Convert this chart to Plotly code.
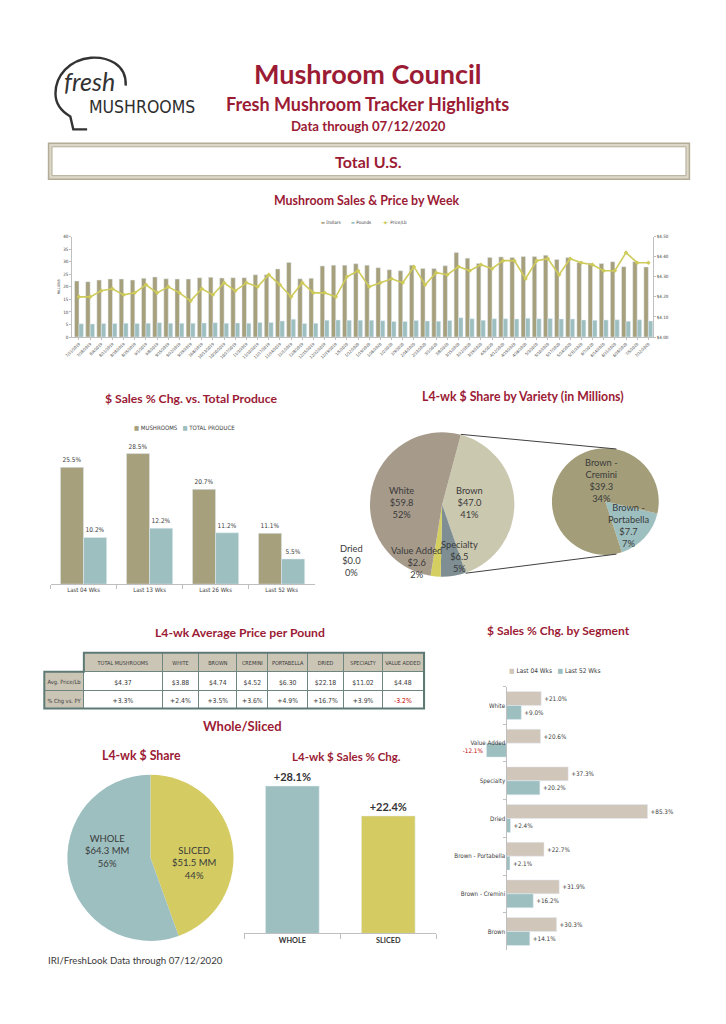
import math
import plotly.graph_objects as go

W, H = 726, 1024
def X(px): return px / W
def Y(py): return 1 - py / H

RED = "#9B1B35"
TF = "Lato, 'Open Sans', sans-serif"
NF = "'Liberation Sans Narrow', 'DejaVu Sans Condensed', 'Liberation Sans', sans-serif"
TXT = "#3A3A3A"
OLIVE = "#A6A07C"
TEAL = "#9DBFC0"
YEL = "#D4CC62"
BEIGE = "#D0C6BA"
LINEC = "#CFCB5A"
GRID = "#BFBFBF"

# ---------------- data ----------------
weeks = ["7/21/2019", "7/28/2019", "8/4/2019", "8/11/2019", "8/18/2019", "8/25/2019",
         "9/1/2019", "9/8/2019", "9/15/2019", "9/22/2019", "9/29/2019", "10/6/2019",
         "10/13/2019", "10/20/2019", "10/27/2019", "11/3/2019", "11/10/2019", "11/17/2019",
         "11/24/2019", "12/1/2019", "12/8/2019", "12/15/2019", "12/22/2019", "12/29/2019",
         "1/5/2020", "1/12/2020", "1/19/2020", "1/26/2020", "2/2/2020", "2/9/2020",
         "2/16/2020", "2/23/2020", "3/1/2020", "3/8/2020", "3/15/2020", "3/22/2020",
         "3/29/2020", "4/5/2020", "4/12/2020", "4/19/2020", "4/26/2020", "5/3/2020",
         "5/10/2020", "5/17/2020", "5/24/2020", "5/31/2020", "6/7/2020", "6/14/2020",
         "6/21/2020", "6/28/2020", "7/5/2020", "7/12/2020"]
dollars = [22.3, 22.0, 22.7, 23.1, 23.1, 22.7, 23.4, 23.9, 23.2, 23.1, 23.1, 23.6,
           23.8, 23.5, 23.6, 23.6, 24.8, 24.8, 27.1, 29.7, 23.2, 23.4, 28.3, 28.6,
           28.6, 29.2, 28.6, 27.6, 26.8, 26.4, 28.6, 27.3, 27.3, 28.4, 33.7, 31.4,
           29.3, 31.7, 31.9, 31.7, 32.1, 32.1, 32.6, 30.9, 31.7, 29.7, 29.4, 29.3,
           30.0, 28.0, 30.0, 27.9]
pounds = [5.3, 5.2, 5.4, 5.4, 5.5, 5.4, 5.5, 5.7, 5.5, 5.5, 5.5, 5.6,
          5.7, 5.5, 5.6, 5.5, 5.8, 5.8, 6.4, 7.1, 5.4, 5.5, 6.7, 6.8,
          6.7, 6.7, 6.7, 6.5, 6.2, 6.2, 6.6, 6.4, 6.3, 6.6, 7.7, 7.3,
          6.7, 7.3, 7.3, 7.2, 7.5, 7.3, 7.4, 7.2, 7.2, 6.8, 6.7, 6.8,
          6.9, 6.3, 6.9, 6.4]
price = [4.20, 4.20, 4.23, 4.24, 4.21, 4.22, 4.26, 4.22, 4.25, 4.22, 4.18, 4.24,
         4.21, 4.27, 4.23, 4.27, 4.25, 4.31, 4.26, 4.20, 4.27, 4.22, 4.22, 4.20,
         4.30, 4.33, 4.25, 4.27, 4.29, 4.27, 4.35, 4.26, 4.32, 4.31, 4.35, 4.33,
         4.36, 4.34, 4.38, 4.38, 4.29, 4.38, 4.39, 4.31, 4.39, 4.37, 4.36, 4.33,
         4.33, 4.42, 4.37, 4.37]
weekly_names = ["Dollars", "Pounds", "Price/Lb"]

periods = ["Last 04 Wks", "Last 13 Wks", "Last 26 Wks", "Last 52 Wks"]
mush_chg = [25.5, 28.5, 20.7, 11.1]
produce_chg = [10.2, 12.2, 11.2, 5.5]
produce_names = ["MUSHROOMS", "TOTAL PRODUCE"]

variety_labels = ["Brown", "Specialty", "Value Added", "Dried", "White"]
variety_dollars = [47.0, 6.5, 2.6, 0.0, 59.8]
variety_pct = [41, 5, 2, 0, 52]
variety_colors = ["#CBC8B0", "#7E8E93", "#D5CF62", "#B5A36A", "#A69A8B"]

brown_labels = ["Brown -<br>Portabella", "Brown -<br>Cremini"]
brown_dollars = [7.7, 39.3]
brown_pct = [7, 34]

table_cols = ["TOTAL MUSHROOMS", "WHITE", "BROWN", "CREMINI", "PORTABELLA",
              "DRIED", "SPECIALTY", "VALUE ADDED"]
row_labels = ["Avg. Price/Lb", "% Chg vs. PY"]
avg_price = [4.37, 3.88, 4.74, 4.52, 6.30, 22.18, 11.02, 4.48]
price_chg = [3.3, 2.4, 3.5, 3.6, 4.9, 16.7, 3.9, -3.2]

ws_labels = ["WHOLE", "SLICED"]
ws_dollars = [64.3, 51.5]
ws_pct = [56, 44]
ws_chg = [28.1, 22.4]

segments = ["White", "Value Added", "Specialty", "Dried", "Brown - Portabella",
            "Brown - Cremini", "Brown"]
seg_04 = [21.0, 20.6, 37.3, 85.3, 22.7, 31.9, 30.3]
seg_52 = [9.0, -12.1, 20.2, 2.4, 2.1, 16.2, 14.1]
seg_names = ["Last 04 Wks", "Last 52 Wks"]

# ---------------- figure ----------------
fig = go.Figure()

# weekly chart
fig.add_trace(go.Bar(x=weeks, y=dollars, name=weekly_names[0], marker_color=OLIVE,
                     width=0.4, offset=-0.4, xaxis="x", yaxis="y", showlegend=False))
fig.add_trace(go.Bar(x=weeks, y=pounds, name=weekly_names[1], marker_color=TEAL,
                     width=0.4, offset=0.0, xaxis="x", yaxis="y", showlegend=False))
fig.add_trace(go.Scatter(x=weeks, y=price, name=weekly_names[2], mode="lines+markers",
                         line=dict(color=LINEC, width=1.6),
                         marker=dict(symbol="diamond", size=3.5, color=LINEC),
                         xaxis="x", yaxis="y2", showlegend=False))

# produce comparison
bar_small = dict(family=NF, size=6.5, color=TXT)
fig.add_trace(go.Bar(x=periods, y=mush_chg, name=produce_names[0], marker_color=OLIVE,
                     width=0.35, offset=-0.35, xaxis="x2", yaxis="y3", showlegend=False,
                     text=[f"{v:.1f}%" for v in mush_chg], textposition="outside",
                     cliponaxis=False, textfont=bar_small))
fig.add_trace(go.Bar(x=periods, y=produce_chg, name=produce_names[1], marker_color=TEAL,
                     width=0.35, offset=0.0, xaxis="x2", yaxis="y3", showlegend=False,
                     text=[f"{v:.1f}%" for v in produce_chg], textposition="outside",
                     cliponaxis=False, textfont=bar_small))

# segment horizontal bars
fig.add_trace(go.Bar(y=segments, x=seg_04, orientation="h", name=seg_names[0],
                     marker_color=BEIGE, width=0.37, offset=-0.37,
                     xaxis="x3", yaxis="y4", showlegend=False,
                     text=[f"{v:+.1f}%" for v in seg_04], textposition="outside",
                     cliponaxis=False, textfont=dict(family=NF, size=6.3, color=TXT)))
fig.add_trace(go.Bar(y=segments, x=seg_52, orientation="h", name=seg_names[1],
                     marker_color=TEAL, width=0.37, offset=0.0,
                     xaxis="x3", yaxis="y4", showlegend=False,
                     text=[f"{v:+.1f}%" for v in seg_52], textposition="outside",
                     cliponaxis=False,
                     textfont=dict(family=NF, size=6.3,
                                   color=["#C00000" if v < 0 else TXT for v in seg_52])))

# whole / sliced bars
fig.add_trace(go.Bar(x=ws_labels, y=ws_chg, marker_color=[TEAL, YEL], width=0.56,
                     xaxis="x4", yaxis="y5", showlegend=False,
                     text=[f"<b>{v:+.1f}%</b>" for v in ws_chg], textposition="outside",
                     cliponaxis=False, textfont=dict(family=TF, size=11, color="#333333")))

# pies
MAIN_C, MAIN_R = (439, 505), 73
MAIN_ROT = 15
fig.add_trace(go.Pie(labels=variety_labels, values=variety_dollars, sort=False,
                     direction="clockwise", rotation=MAIN_ROT, textinfo="none",
                     marker=dict(colors=variety_colors, line=dict(width=0)),
                     domain=dict(x=[X(MAIN_C[0] - MAIN_R), X(MAIN_C[0] + MAIN_R)],
                                 y=[Y(MAIN_C[1] + MAIN_R), Y(MAIN_C[1] - MAIN_R)]),
                     showlegend=False))
SUB_C, SUB_R = (604, 502), 54
SUB_ROT = 103
fig.add_trace(go.Pie(labels=brown_labels, values=brown_dollars, sort=False,
                     direction="clockwise", rotation=SUB_ROT, textinfo="none",
                     marker=dict(colors=[TEAL, "#A39E79"], line=dict(width=0)),
                     domain=dict(x=[X(SUB_C[0] - SUB_R), X(SUB_C[0] + SUB_R)],
                                 y=[Y(SUB_C[1] + SUB_R), Y(SUB_C[1] - SUB_R)]),
                     showlegend=False))
WS_C, WS_R = (144, 860), 84
fig.add_trace(go.Pie(labels=ws_labels[::-1], values=ws_dollars[::-1], sort=False,
                     direction="clockwise", rotation=0, textinfo="none",
                     marker=dict(colors=[YEL, TEAL], line=dict(width=0)),
                     domain=dict(x=[X(WS_C[0] - WS_R), X(WS_C[0] + WS_R)],
                                 y=[Y(WS_C[1] + WS_R), Y(WS_C[1] - WS_R)]),
                     showlegend=False))

# table
NB = "\u00a0"
TLINE = "#6E8580"
TAUPE = "#CBC5B6"
cells = [[r.replace(" ", NB) for r in row_labels]] + \
        [[f"${p:.2f}", f"{c:+.1f}%"] for p, c in zip(avg_price, price_chg)]
cell_colors = [[TXT, TXT]] + [[TXT, "#C00000" if c < 0 else TXT] for c in price_chg]
fig.add_trace(go.Table(
    domain=dict(x=[X(36.7), X(420.7)], y=[Y(718), Y(654)]),
    columnwidth=[40, 79.3, 37.3, 38.4, 31.6, 40, 36.7, 39.3, 41.4],
    header=dict(values=[""] + [c.replace(" ", NB) for c in table_cols],
                fill=dict(color=["white"] + [TAUPE] * len(table_cols)),
                line=dict(color=["white"] + [TLINE] * len(table_cols), width=1),
                font=dict(family=NF, size=5.5, color=TXT), height=19, align="center"),
    cells=dict(values=cells,
               fill=dict(color=[TAUPE] + ["white"] * len(table_cols)),
               line=dict(color=TLINE, width=1),
               font=dict(family=NF, size=[5.7] + [6.8] * len(table_cols), color=cell_colors),
               height=18.5, align="center")))

# ---------------- annotations ----------------
ann = []
def text(t, x, y, size, color=RED, family=TF, xanchor="center", bold=True):
    ann.append(dict(text=(f"<b>{t}</b>" if bold else t), x=X(x), y=Y(y), xref="paper",
                    yref="paper", showarrow=False, xanchor=xanchor, yanchor="middle",
                    font=dict(family=family, size=size, color=color)))

text("Mushroom Council", 364, 72, 27)
text("Fresh Mushroom Tracker Highlights", 364, 102, 18)
text("Data through 07/12/2020", 365, 125, 13.2)
text("Total U.S.", 365, 160, 16)
text("Mushroom Sales & Price by Week", 363, 199, 12.4)
text("$ Sales % Chg. vs. Total Produce", 185, 398, 12.2)
text("L4-wk $ Share by Variety (in Millions)", 521, 396, 12.3)
text("L4-wk Average Price per Pound", 235, 634, 12.2)
text("$ Sales % Chg. by Segment", 557, 632, 12)
text("Whole/Sliced", 237, 728, 13)
text("L4-wk $ Share", 135, 757, 12.3)
text("L4-wk $ Sales % Chg.", 342, 758, 11.5)
text("IRI/FreshLook Data through 07/12/2020", 38, 963, 9.7, color=TXT, xanchor="left", bold=False)

# compact legends (series names and colours from the traces' definitions)
def sw(color, glyph="■"):
    return f"<span style='color:{color}'>{glyph}</span>"
text(f"{sw(OLIVE, '▬')} {weekly_names[0]}&nbsp;&nbsp;&nbsp;&nbsp;&nbsp;&nbsp;&nbsp;&nbsp;"
     f"{sw(TEAL, '▬')} {weekly_names[1]}&nbsp;&nbsp;&nbsp;&nbsp;&nbsp;&nbsp;&nbsp;&nbsp;"
     f"{sw(LINEC, '–◆–')} {weekly_names[2]}", 360, 222, 4.6, color=TXT, family=NF, bold=False)
text(f"{sw(OLIVE)} {produce_names[0]}&nbsp;&nbsp;&nbsp;{sw(TEAL)} {produce_names[1]}",
     178, 428, 6, color=TXT, family=NF, bold=False)
text(f"{sw(BEIGE)} {seg_names[0]}&nbsp;&nbsp;&nbsp;{sw(TEAL)} {seg_names[1]}",
     553, 672, 6.5, color=TXT, family=NF, bold=False)

# logo text
ann.append(dict(text="<i>fresh</i>", x=X(82), y=Y(79), xref="paper", yref="paper",
                xanchor="center", yanchor="middle", showarrow=False,
                font=dict(family=TF, size=25, color="#333333", style="italic")))
ann.append(dict(text="MUSHROOMS", x=X(135), y=Y(106), xref="paper", yref="paper",
                xanchor="center", yanchor="middle", showarrow=False,
                font=dict(family=NF, size=17.5, color="#2E2E2E")))

# pie labels
main_pos = {"Brown": (467, 503), "Specialty": (457, 557), "Value Added": (413, 563),
            "Dried": (347, 561), "White": (398, 503)}
for lab, v, p in zip(variety_labels, variety_dollars, variety_pct):
    px, py = main_pos[lab]
    text(f"{lab}<br>${v:.1f}<br>{p}%", px, py, 9.3, color=TXT, bold=False)
sub_pos = [(627, 526), (600, 481)]
for (px, py), lab, v, p in zip(sub_pos, brown_labels, brown_dollars, brown_pct):
    text(f"{lab}<br>${v:.1f}<br>{p}%", px, py, 9.3, color=TXT, bold=False)
ws_pos = [(100, 853), (188, 865)]
for (px, py), lab, v, p in zip(ws_pos, ws_labels, ws_dollars, ws_pct):
    text(f"{lab}<br>${v:.1f} MM<br>{p}%", px, py, 9.5, color=TXT, bold=False)

# ---------------- shapes ----------------
def pt(px, py): return f"{X(px):.5f},{Y(py):.5f}"
shapes = [
    dict(type="rect", xref="paper", yref="paper", x0=X(41), x1=X(689), y0=Y(178), y1=Y(142),
         line=dict(color="#B3AC96", width=1.5), fillcolor="#DCD7C8", layer="below"),
    dict(type="rect", xref="paper", yref="paper", x0=X(44.5), x1=X(685.5), y0=Y(174.5), y1=Y(145.5),
         line=dict(color="#B3AC96", width=1), fillcolor="white", layer="below"),
    dict(type="path", xref="paper", yref="paper",
         path=(f"M {pt(119, 84)} C {pt(120, 62)} {pt(100, 55)} {pt(84, 56)} "
               f"C {pt(62, 58)} {pt(48, 74)} {pt(48, 92)} "
               f"C {pt(48, 104)} {pt(56, 111)} {pt(63, 115)} "
               f"L {pt(66, 128)} L {pt(80, 128)}"),
         line=dict(color="#333333", width=2.4)),
    dict(type="path", xref="paper", yref="paper",
         path=(f"M {pt(76.7, 654)} L {pt(420.7, 654)} L {pt(420.7, 710)} "
               f"L {pt(36.7, 710)} L {pt(36.7, 673)} L {pt(76.7, 673)} Z"),
         line=dict(color="#5E7A75", width=2)),
]
# connector lines between the pies (edges of the Brown slice)
tot = sum(variety_dollars)
a0 = math.radians(MAIN_ROT)
a1 = math.radians(MAIN_ROT + 360 * variety_dollars[0] / tot)
def on(c, r, a): return (c[0] + r * math.sin(a), c[1] - r * math.cos(a))
p_top, p_bot = on(MAIN_C, MAIN_R, a0), on(MAIN_C, MAIN_R, a1)
q_top, q_bot = on(SUB_C, SUB_R, math.radians(12)), on(SUB_C, SUB_R, math.radians(168))
for p, q in [(p_top, q_top), (p_bot, q_bot)]:
    shapes.append(dict(type="line", xref="paper", yref="paper",
                       x0=X(p[0]), y0=Y(p[1]), x1=X(q[0]), y1=Y(q[1]),
                       line=dict(color="#404040", width=1)))

small = dict(family=NF, size=4.5, color=TXT)
fig.update_layout(
    width=W, height=H, margin=dict(l=0, r=0, t=0, b=0),
    paper_bgcolor="white", plot_bgcolor="white",
    barmode="group", showlegend=False,
    annotations=ann, shapes=shapes,
    xaxis=dict(domain=[X(65), X(652)], anchor="y", type="category", range=[-0.6, 51.4],
               tickmode="array", tickvals=weeks, ticktext=weeks, tickangle=-45,
               tickfont=dict(family=NF, size=4, color=TXT), showline=True, linecolor=GRID,
               ticks="outside", ticklen=2, tickcolor=GRID, showgrid=False),
    yaxis=dict(domain=[Y(336.7), Y(235.7)], anchor="x", range=[0, 40], dtick=5,
               tickfont=small, showline=True, linecolor=GRID, ticks="outside", ticklen=2,
               tickcolor=GRID, showgrid=False, zeroline=False,
               title=dict(text="MILLIONS", font=dict(family=NF, size=3.5, color=TXT), standoff=2)),
    yaxis2=dict(overlaying="y", side="right", anchor="x", range=[4.0, 4.5], dtick=0.1,
                tickformat="$.2f", tickfont=small, showline=True, linecolor=GRID,
                ticks="outside", ticklen=2, tickcolor=GRID, showgrid=False, zeroline=False),
    xaxis2=dict(domain=[X(43), X(310)], anchor="y3", type="category", range=[-0.5, 3.5],
                showline=True, linecolor=GRID, ticks="outside", tickson="boundaries",
                ticklen=4, tickcolor=GRID, tickfont=dict(family=NF, size=6, color=TXT)),
    yaxis3=dict(domain=[Y(585), Y(440)], anchor="x2", range=[0, 31.5], visible=False),
    xaxis3=dict(domain=[X(480.6), X(671.3)], anchor="y4", range=[-14, 100], visible=False),
    yaxis4=dict(domain=[Y(953), Y(688)], anchor="free", position=X(504), type="category",
                categoryorder="array", categoryarray=segments, range=[6.5, -0.5],
                showline=True, linecolor=GRID, ticks="outside", tickson="boundaries",
                ticklen=3, tickcolor=GRID, tickfont=dict(family=NF, size=6.2, color=TXT)),
    xaxis4=dict(domain=[X(239), X(433)], anchor="y5", type="category", range=[-0.5, 1.5],
                showline=True, linecolor=GRID, ticks="outside", tickson="boundaries",
                ticklen=5, tickcolor=GRID,
                tickfont=dict(family=TF, size=7.3, color="#333333", weight="bold")),
    yaxis5=dict(domain=[Y(936), Y(770)], anchor="x4", range=[0, 31.5], visible=False),
)

fig.write_html("out.html", config={"displayModeBar": False},
               post_script="document.body.style.margin='0px';")
